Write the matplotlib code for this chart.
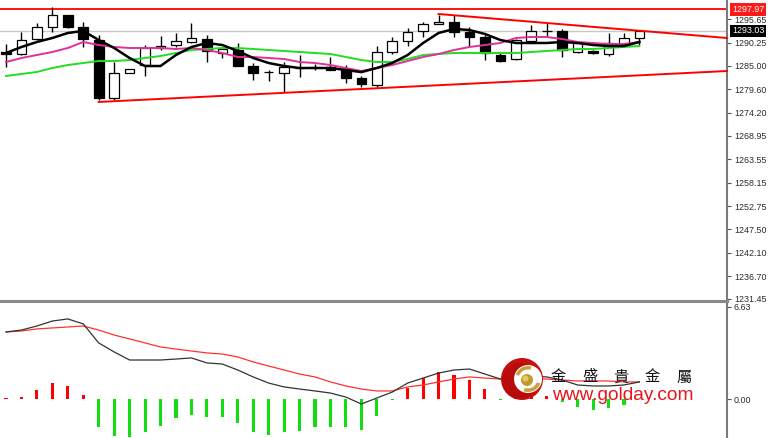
import matplotlib
matplotlib.use('Agg')
import matplotlib.pyplot as plt
import numpy as np
from matplotlib.patches import Circle, Wedge
from matplotlib.lines import Line2D
from matplotlib.transforms import blended_transform_factory

# ---------------- data ----------------
opens = [1288.18, 1287.72, 1291.17, 1293.93, 1296.68, 1293.93, 1290.94, 1277.61, 1283.35, 1285.19,
         1289.10, 1289.79, 1290.48, 1291.17, 1287.95, 1288.64, 1284.96, 1283.60, 1283.35, 1284.50,
         1284.73, 1284.73, 1284.27, 1282.21, 1280.60, 1288.18, 1290.71, 1293.01, 1294.62, 1295.08,
         1292.78, 1291.63, 1287.49, 1286.57, 1290.71, 1293.00, 1293.01, 1288.18, 1288.41, 1287.72,
         1290.02, 1291.40]
highs = [1290.00, 1292.78, 1294.85, 1298.52, 1296.70, 1295.08, 1292.09, 1285.88, 1284.30, 1289.79,
         1291.86, 1292.55, 1294.85, 1292.09, 1289.33, 1290.25, 1285.65, 1284.04, 1285.88, 1287.49,
         1285.42, 1287.03, 1285.19, 1282.66, 1289.56, 1291.63, 1293.70, 1295.08, 1296.68, 1296.68,
         1293.93, 1292.09, 1287.95, 1291.17, 1294.39, 1294.85, 1293.47, 1290.30, 1288.64, 1292.55,
         1292.55, 1293.10]
lows = [1284.80, 1287.49, 1290.94, 1292.78, 1293.70, 1289.33, 1277.15, 1277.15, 1283.30, 1282.66,
        1288.64, 1289.33, 1290.25, 1285.88, 1286.80, 1284.90, 1281.75, 1281.52, 1278.99, 1282.43,
        1284.04, 1284.00, 1281.06, 1280.14, 1280.14, 1287.72, 1289.56, 1291.63, 1294.60, 1291.63,
        1289.56, 1286.34, 1285.88, 1286.34, 1290.48, 1291.86, 1287.03, 1287.95, 1287.72, 1287.26,
        1289.33, 1289.79]
closes = [1287.72, 1290.94, 1293.93, 1296.68, 1293.93, 1291.17, 1277.61, 1283.35, 1284.27, 1289.10,
          1289.56, 1290.71, 1291.40, 1288.41, 1288.87, 1284.96, 1283.35, 1283.50, 1284.73, 1284.55,
          1284.75, 1284.04, 1282.21, 1280.83, 1288.18, 1290.71, 1292.78, 1294.62, 1295.08, 1292.78,
          1291.63, 1287.95, 1286.11, 1290.94, 1293.01, 1293.05, 1288.64, 1290.25, 1287.95, 1290.25,
          1291.40, 1293.03]

ma_fast = [1287.95, 1289.33, 1290.48, 1291.40, 1292.55, 1293.01, 1290.94, 1289.10, 1286.80, 1284.96,
           1284.96, 1287.49, 1289.33, 1290.25, 1289.79, 1288.41, 1286.80, 1285.65, 1284.96, 1284.50,
           1284.50, 1284.50, 1284.04, 1283.57, 1284.50, 1285.65, 1287.49, 1290.25, 1292.55, 1293.47,
           1293.24, 1292.32, 1290.94, 1290.25, 1290.25, 1290.25, 1290.48, 1290.25, 1289.79, 1289.56,
           1289.56, 1290.48]
ma_mid = [1285.88, 1286.80, 1287.49, 1288.18, 1289.10, 1290.48, 1289.79, 1289.33, 1289.10, 1289.10,
          1289.10, 1288.87, 1289.10, 1288.64, 1287.95, 1287.03, 1287.03, 1286.80, 1286.57, 1285.88,
          1285.65, 1285.19, 1284.50, 1283.81, 1284.50, 1285.19, 1286.11, 1287.03, 1287.72, 1288.64,
          1289.33, 1289.79, 1290.25, 1291.40, 1291.63, 1291.63, 1291.17, 1290.48, 1290.25, 1290.02,
          1290.02, 1290.48]
ma_slow = [1282.67, 1283.13, 1283.59, 1284.50, 1285.19, 1285.65, 1286.11, 1286.11, 1286.34, 1286.80,
           1287.26, 1287.95, 1288.64, 1288.87, 1289.10, 1289.10, 1288.87, 1288.64, 1288.41, 1288.18,
           1287.95, 1287.72, 1287.03, 1286.34, 1285.88, 1285.88, 1286.57, 1287.49, 1287.72, 1287.95,
           1287.95, 1287.95, 1287.95, 1287.95, 1288.18, 1288.41, 1288.64, 1288.87, 1288.87, 1289.10,
           1289.33, 1289.56]

macd_main = [4.83, 4.97, 5.26, 5.62, 5.77, 5.41, 4.04, 3.39, 2.81, 2.81,
             2.81, 2.88, 2.96, 2.60, 2.52, 2.09, 1.59, 1.15, 0.87, 0.72,
             0.58, 0.43, 0.14, -0.36, 0.07, 0.50, 1.15, 1.51, 1.87, 2.09,
             2.16, 1.80, 1.44, 1.51, 1.66, 1.59, 1.37, 1.01, 0.94, 0.94,
             1.01, 1.23]
macd_signal = [4.83, 4.90, 5.05, 5.12, 5.19, 5.26, 4.97, 4.61, 4.33, 4.04,
               3.75, 3.60, 3.46, 3.32, 3.24, 3.03, 2.67, 2.38, 2.09, 1.80,
               1.59, 1.23, 0.94, 0.72, 0.58, 0.58, 0.87, 1.01, 1.23, 1.44,
               1.59, 1.51, 1.44, 1.37, 1.51, 1.44, 1.37, 1.30, 1.30, 1.30,
               1.23, 1.23]
macd_hist = [0.10, 0.15, 0.65, 1.15, 0.94, 0.29, -2.00, -2.70, -2.75, -2.35,
             -1.95, -1.40, -1.15, -1.30, -1.30, -1.75, -2.35, -2.60, -2.40, -2.30,
             -2.00, -2.00, -2.00, -2.20, -1.20, -0.10, 0.80, 1.50, 1.95, 1.75,
             1.35, 0.70, -0.10, 0.30, 0.30, 0.25, -0.20, -0.55, -0.80, -0.65,
             -0.45, 0.00]

price_ticks = [1295.65, 1290.25, 1285.00, 1279.60, 1274.20, 1268.95, 1263.55, 1258.15,
               1252.75, 1247.50, 1242.10, 1236.70, 1231.45]
macd_ticks = [6.63, 0.00]
resistance_level = 1297.97
last_price = 1293.03
support_pts = ([6, 41], [1276.70, 1282.82])
resist_pts = ([28, 41], [1296.91, 1293.07])

# ---------------- figure ----------------
W, H = 771, 438
fig = plt.figure(figsize=(W / 100, H / 100), dpi=100)
fig.patch.set_facecolor('white')
axr = 727 / W
ax1 = fig.add_axes([0, (H - 300) / H, axr, 300 / H])
ax2 = fig.add_axes([0, 0, axr, 136 / H])

LBL_FONT = 'Liberation Sans'
LBL_SIZE = 6.4

n = len(opens)
x = np.arange(n)
xlim = (-0.39, 46.67)

for ax in (ax1, ax2):
    ax.set_xlim(*xlim)
    ax.set_facecolor('white')
    for s in ('top', 'left', 'bottom'):
        ax.spines[s].set_visible(False)
    ax.spines['right'].set_color('#7a7a7a')
    ax.spines['right'].set_linewidth(1.5)
    ax.set_xticks([])
    ax.yaxis.tick_right()
    ax.tick_params(axis='y', direction='out', length=3, width=0.8, color='#555555',
                   labelsize=LBL_SIZE, pad=2, labelcolor='#2a2a2a')

ax1.set_ylim(1231.19, 1300.13)
ax2.set_ylim(-2.81, 6.99)

# horizontal levels
ax1.axhline(resistance_level, color='#ff0000', lw=1.3, zorder=2)
ax1.axhline(last_price, color='#c8c8c8', lw=1.0, zorder=1)

# candles
o = np.array(opens); c = np.array(closes); h = np.array(highs); l = np.array(lows)
ax1.vlines(x, l, h, color='black', lw=1.0, zorder=3)
bull = c >= o
bottoms = np.minimum(o, c)
heights = np.abs(c - o)
ax1.bar(x[bull], heights[bull], bottom=bottoms[bull], width=0.62, facecolor='white',
        edgecolor='black', linewidth=0.9, zorder=4)
ax1.bar(x[~bull], heights[~bull], bottom=bottoms[~bull], width=0.62, facecolor='black',
        edgecolor='black', linewidth=0.9, zorder=4)

# moving averages
ax1.plot(x, ma_slow, color='#22dd22', lw=1.4, zorder=5)
ax1.plot(x, ma_mid, color='#e0309a', lw=1.4, zorder=6)
ax1.plot(x, ma_fast, color='black', lw=1.8, zorder=7)

# trend lines extended to right edge
def extend(pts):
    (x0, x1), (y0, y1) = pts
    slope = (y1 - y0) / (x1 - x0)
    return [x0, xlim[1]], [y0, y0 + slope * (xlim[1] - x0)]

sx, sy = extend(support_pts)
rx, ry = extend(resist_pts)
ax1.plot(sx, sy, color='#ff0000', lw=1.4, zorder=8, clip_on=False)
ax1.plot(rx, ry, color='#ff0000', lw=1.4, zorder=8, clip_on=False)

# price axis ticks
ax1.set_yticks(price_ticks)
ax1.set_yticklabels([f'{v:.2f}' for v in price_ticks], family=LBL_FONT)
trans = blended_transform_factory(ax1.transAxes, ax1.transData)
ax1.text(1.007, resistance_level, f'{resistance_level:.2f}', transform=trans, fontsize=LBL_SIZE,
         family=LBL_FONT, color='white', va='center', ha='left', clip_on=False,
         bbox=dict(boxstyle='square,pad=0.2', fc='#ff1a1a', ec='none'))
ax1.text(1.007, last_price, f'{last_price:.2f}', transform=trans, fontsize=LBL_SIZE,
         family=LBL_FONT, color='white', va='center', ha='left', clip_on=False,
         bbox=dict(boxstyle='square,pad=0.2', fc='black', ec='none'))

# MACD panel
hist = np.array(macd_hist)
ax2.bar(x[hist >= 0], hist[hist >= 0], width=0.2, color='#ff0000', zorder=2)
ax2.bar(x[hist < 0], hist[hist < 0], width=0.2, color='#11dd11', zorder=2)
ax2.plot(x, macd_signal, color='#ff3030', lw=0.9, zorder=3)
ax2.plot(x, macd_main, color='#333333', lw=0.9, zorder=4)
ax2.set_yticks(macd_ticks)
ax2.set_yticklabels([f'{v:.2f}' for v in macd_ticks], family=LBL_FONT)

# panel separator
fig.add_artist(Line2D([0, axr], [1 - 301 / H, 1 - 301 / H], color='#8a8a8a', lw=2.2))

# ---------------- logo overlay (pixel coordinates) ----------------
ov = fig.add_axes([0, 0, 1, 1], zorder=10)
ov.set_xlim(0, W)
ov.set_ylim(H, 0)
ov.axis('off')
ov.patch.set_alpha(0)
cx, cy = 522, 379
ov.add_patch(Circle((cx, cy), 21, fc='#c81010', ec='none'))
ov.add_patch(Circle((cx - 2, cy + 2), 18, fc='#a00808', ec='none', alpha=0.4))
ov.add_patch(Circle((cx + 6, cy), 14, fc='white', ec='none'))
ov.add_patch(Wedge((cx + 6, cy), 13, 200, 285, width=3.5, fc='#c9a038', ec='none'))
ov.add_patch(Wedge((cx + 6, cy), 13, 20, 110, width=3.5, fc='#c9a038', ec='none'))
ov.add_patch(Circle((cx + 5, cy + 1), 6, fc='#c09a30', ec='none'))
ov.add_patch(Circle((cx + 3.5, cy - 0.5), 3, fc='#e8c860', ec='none'))

chars = ['金', '盛', '貴', '金', '屬']
for i, ch in enumerate(chars):
    ov.text(558 + i * 31.5, 377, ch, fontsize=11, family=['Noto Sans CJK TC', 'DejaVu Sans'],
            color='#111111', ha='center', va='center')
ov.text(552, 400, 'www.golday.com', fontsize=13.8, family='Liberation Sans', color='#e8141e',
        ha='left', va='baseline')

fig.savefig('out.png', dpi=100, facecolor='white')
